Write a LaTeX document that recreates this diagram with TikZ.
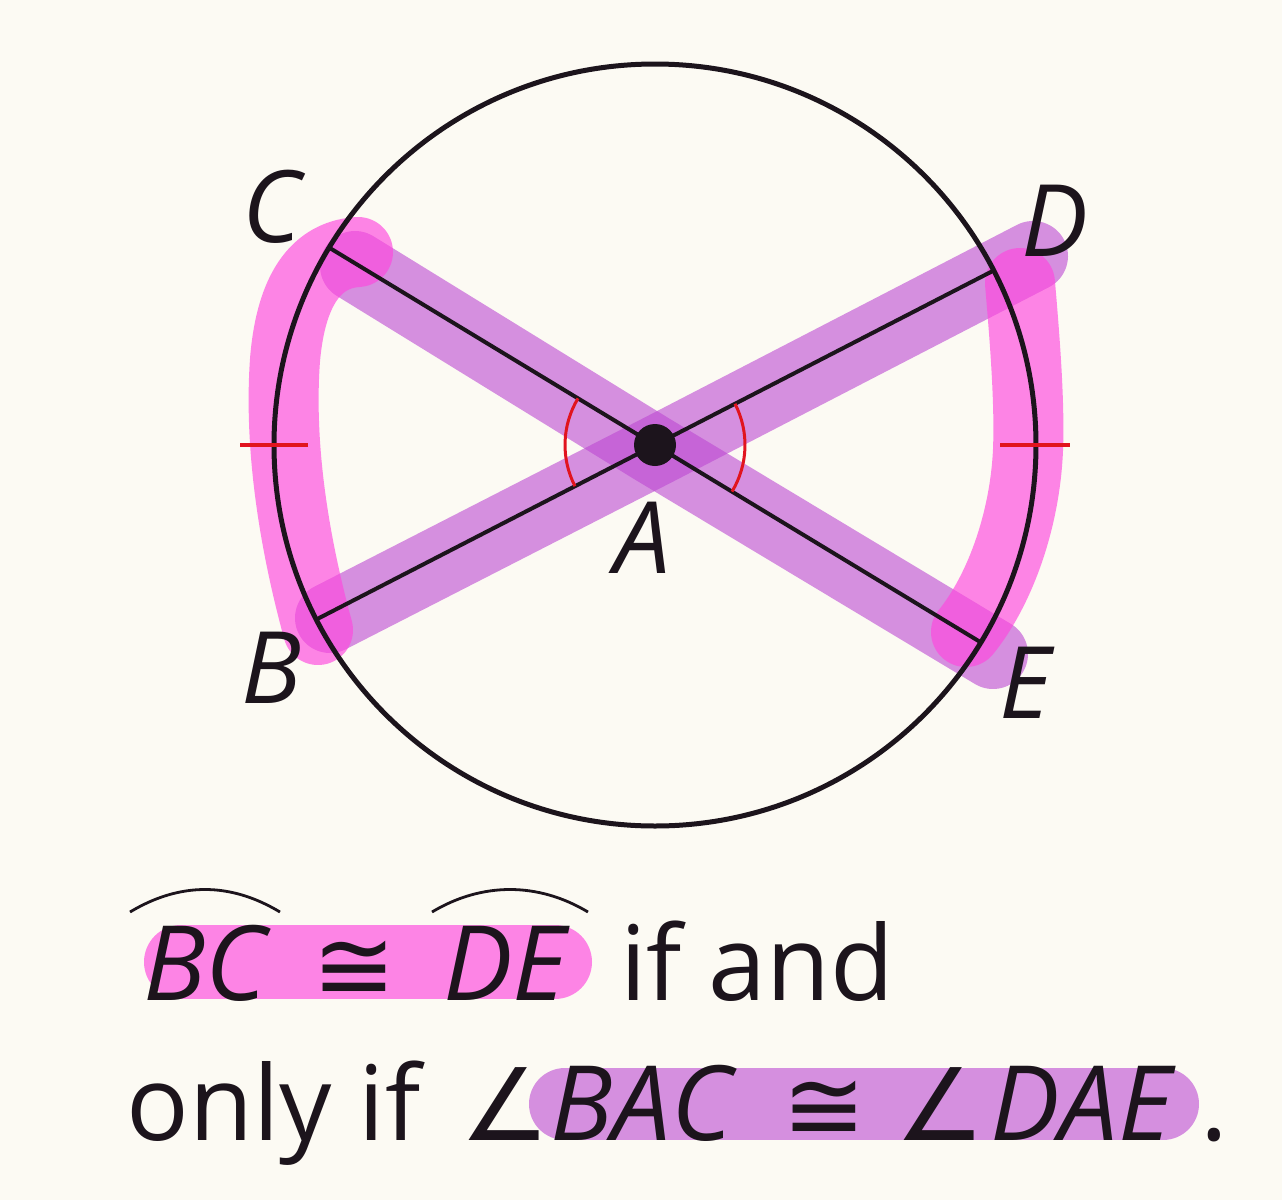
\documentclass[tikz,border=0pt]{standalone}
\usepackage{fontspec}
\setmainfont{Open Sans}
\newfontfamily\symf{DejaVu Sans}
\usetikzlibrary{calc}
\definecolor{bg}{RGB}{252,250,243}
\definecolor{ink}{RGB}{28,20,28}
\definecolor{hlpink}{RGB}{255,70,222}
\definecolor{hlpurple}{RGB}{188,72,210}
\definecolor{mkred}{RGB}{225,20,30}
\begin{document}
\begin{tikzpicture}[x=0.5pt,y=-0.5pt,
  pinkhl/.style={draw=hlpink, draw opacity=0.65, line width=35pt, line cap=round, line join=round},
  purplehl/.style={draw=hlpurple, draw opacity=0.6, line width=35pt, line cap=round, line join=round},
  chord/.style={draw=ink, line width=2pt},
  ring/.style={draw=ink, line width=2.5pt},
  tickmark/.style={draw=mkred, line width=1.8pt},
  anglemark/.style={draw=mkred, line width=1.5pt},
  arcmark/.style={draw=ink, line width=1.4pt},
  lbl/.style={font=\fontsize{50}{60}\selectfont\itshape, text=ink, inner sep=0pt},
  txt/.style={font=\fontsize{52}{62}\selectfont, text=ink, inner sep=0pt, anchor=base west},
  txtit/.style={font=\fontsize{52}{62}\selectfont\itshape, text=ink, inner sep=0pt, anchor=base west},
  txtsym/.style={font=\fontsize{50}{60}\selectfont\symf, text=ink, inner sep=0pt, anchor=base west}
]
% background / bounding box
\fill[bg] (0,0) rectangle (1282,1200);
\useasboundingbox (0,0) rectangle (1282,1200);

% key points
\coordinate (A) at (655,445);
\coordinate (C) at (329.1,247.6);
\coordinate (E) at (980.9,642.4);
\coordinate (D) at (993.7,270.5);
\coordinate (B) at (316.3,619.5);

% highlights in the figure
\draw[purplehl] (355,266) -- (652,449) -- (993,654);
\draw[purplehl] (1033,256) -- (658,450) -- (330,618);
\draw[pinkhl] (358,252) .. controls (310,255) and (290,300) .. (285,360)
  .. controls (280,430) and (288,520) .. (318,630);
\draw[pinkhl] (1020,283) .. controls (1024,330) and (1030,400) .. (1028,450)
  .. controls (1025,520) and (1000,590) .. (966,632);

% circle and chords
\draw[ring] (A) circle[radius=381];
\draw[chord] (C) -- (E);
\draw[chord] (D) -- (B);

% congruence marks
\coordinate (tl1) at (240,445); \coordinate (tl2) at (308,445);
\coordinate (tr1) at (1000,445); \coordinate (tr2) at (1070,445);
\draw[tickmark] (tl1) -- (tl2);
\draw[tickmark] (tr1) -- (tr2);
\draw[anglemark] ($(A)+(152.75:90)$) arc[start angle=152.75, end angle=211.2, radius=90];
\draw[anglemark] ($(A)+(-27.25:90)$) arc[start angle=-27.25, end angle=31.2, radius=90];

% centre dot
\fill[ink] (A) circle[radius=21];

% labels
\node[lbl] (labC) at (272,207) {C};
\node[lbl] (labD) at (1055,221) {D};
\node[lbl] (labA) at (643,538) {A};
\node[lbl] (labB) at (272,668) {B};
\node[lbl] (labE) at (1025,683) {E};

% text highlights
\draw[pinkhl, line width=37pt] (181,962) -- (555,962);
\draw[purplehl, line width=36pt] (565,1104) -- (1163,1104);

% statement, line 1
\node[txtit] (bc) at (143,1000) {BC};
\node[txtsym] (cong1) at (312,1000) {≅};
\node[txtit] (de) at (443,1000) {DE};
\node[txt] (ifand) at (620,1000) {if and};
\draw[arcmark] (130,912) .. controls (180,882) and (230,882) .. (280,912);
\draw[arcmark] (432,912) .. controls (482,882) and (538,882) .. (588,912);

% statement, line 2
\node[txt] (onlyif) at (126,1140) {only if};
\node[txtsym] (ang1) at (460,1140) {∠};
\node[txtit] (bac) at (550,1140) {BAC};
\node[txtsym] (cong2) at (782,1140) {≅};
\node[txtsym] (ang2) at (895,1140) {∠};
\node[txtit] (dae) at (990,1140) {DAE};
\node[txt] (period) at (1200,1140) {.};
\end{tikzpicture}
\end{document}
